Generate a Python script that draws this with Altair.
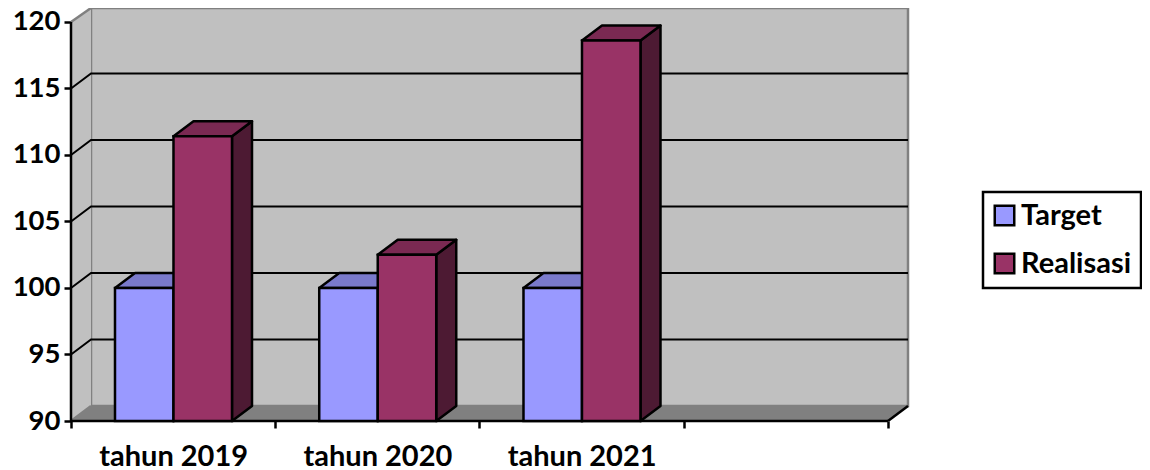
import altair as alt
import pandas as pd

categories = ["tahun 2019", "tahun 2020", "tahun 2021"]
series = ["Target", "Realisasi"]
target = [100, 100, 100]
realisasi = [111.4, 102.5, 118.6]
front_colors = ["#9999ff", "#993366"]
top_colors = ["#7a7acc", "#7a2952"]
side_colors = ["#4d4d80", "#4d1a33"]
y_ticks = [90, 95, 100, 105, 110, 115, 120]
x_ticks = [0, 0.5, 1, 1.5, 2, 2.5, 3, 4]
grid_values = [95, 100, 105, 110, 115]

FONT = "Lato"
FS = 29
Y0, Y1, Y_MAX = 90, 120, 121.05
DX, DY = 0.098, 1.128      # depth of the 3-D box, in axis units
N_SLOTS = 4
GAP = 0.2154               # left gap of a cluster, in category units
BAR = 0.2864               # bar width, in category units
PX = 837
PY = 413
X_MAX = N_SLOTS + DX

x_scale = alt.Scale(domain=[0, X_MAX], nice=False, zero=False)
y_scale = alt.Scale(domain=[Y0, Y_MAX], nice=False, zero=False)

label_expr = ("datum.value==0.5?'%s':datum.value==1.5?'%s':datum.value==2.5?'%s':''"
              % tuple(categories))
x_axis = alt.Axis(
    values=x_ticks, labelExpr=label_expr, domain=False, grid=False, title=None,
    tickColor="black", tickWidth=2.5, tickSize=7,
    tickOpacity=alt.expr("datum.value % 1 === 0 ? 1 : 0"),
    labelFont=FONT, labelFontWeight="bold", labelFontSize=FS, labelColor="black",
    labelPadding=14, labelOverlap=False, labelFlush=False)
y_axis = alt.Axis(
    values=y_ticks, domain=False, grid=False, title=None, tickColor="black", tickWidth=2.5,
    tickSize=7, labelFont=FONT, labelFontWeight="bold", labelFontSize=27.5, labelColor="black",
    labelPadding=4, labelOverlap=False, labelFlush=False)
X = lambda f: alt.X(f, type="quantitative", scale=x_scale, axis=x_axis)
Y = lambda f: alt.Y(f, type="quantitative", scale=y_scale, axis=y_axis)

# ---- bars
rows = []
for i, c in enumerate(categories):
    for j, (s, vals) in enumerate(zip(series, [target, realisasi])):
        x0 = i + GAP + j * BAR
        rows.append(dict(cat=c, s=s, v=vals[i], x0=x0, x1=x0 + BAR, base=Y0))
bars = pd.DataFrame(rows)

side_rows, top_rows = [], []
for r in rows:
    k = r["s"] + r["cat"]
    side_rows += [dict(k=k, s=r["s"], x=r["x1"], y=r["v"], y2=Y0),
                  dict(k=k, s=r["s"], x=r["x1"] + DX, y=r["v"] + DY, y2=Y0 + DY)]
    top_rows += [dict(k=k, s=r["s"], y=r["v"], x=r["x0"], x2=r["x1"]),
                 dict(k=k, s=r["s"], y=r["v"] + DY, x=r["x0"] + DX, x2=r["x1"] + DX)]
sides = pd.DataFrame(side_rows)
tops = pd.DataFrame(top_rows)

# ---- walls
back = pd.DataFrame([dict(x=DX, x2=X_MAX, y=Y0 + DY, y2=Y_MAX)])
left = pd.DataFrame([dict(x=0, y=Y0, y2=Y1), dict(x=DX, y=Y0 + DY, y2=Y_MAX)])
floor = pd.DataFrame([dict(y=Y0, x=0, x2=N_SLOTS), dict(y=Y0 + DY, x=DX, x2=X_MAX)])

grid_rows = []
for v in grid_values:
    grid_rows += [dict(g=v, o=0, x=0, y=v), dict(g=v, o=1, x=DX, y=v + DY),
                  dict(g=v, o=2, x=X_MAX, y=v + DY)]
grid = pd.DataFrame(grid_rows)

grey_edges = pd.DataFrame([
    dict(g="top", o=0, x=0, y=Y1), dict(g="top", o=1, x=DX, y=Y_MAX),
    dict(g="low", o=0, x=0, y=Y0), dict(g="low", o=1, x=DX, y=Y0 + DY),
])
black_edges = pd.DataFrame([
    dict(g="slant", o=0, x=N_SLOTS, y=Y0), dict(g="slant", o=1, x=X_MAX, y=Y0 + DY),
    dict(g="xaxis", o=0, x=0, y=Y0), dict(g="xaxis", o=1, x=N_SLOTS, y=Y0),
    dict(g="yaxis", o=0, x=0, y=Y0), dict(g="yaxis", o=1, x=0, y=Y1),
])

wall_layer = alt.Chart(back).mark_rect(fill="#c0c0c0", stroke="#808080", strokeWidth=2.5).encode(
    x=X("x"), x2="x2", y=Y("y"), y2="y2")
left_layer = alt.Chart(left).mark_area(fill="#c0c0c0").encode(x=X("x"), y=Y("y"), y2="y2")
floor_layer = alt.Chart(floor).mark_area(orient="horizontal", fill="#808080").encode(
    y=Y("y"), x=X("x"), x2="x2")
line_enc = dict(x=X("x"), y=Y("y"), order="o:O", detail="g:N")
grid_layer = alt.Chart(grid).mark_line(color="black", strokeWidth=2).encode(**line_enc)
grey_layer = alt.Chart(grey_edges).mark_line(color="#808080", strokeWidth=2.5).encode(**line_enc)
black_layer = alt.Chart(black_edges).mark_line(color="black", strokeWidth=2.5).encode(**line_enc)

side_layer = alt.Chart(sides).mark_area(stroke="black", strokeWidth=2.5, strokeJoin="round").encode(
    x=X("x"), y=Y("y"), y2="y2", detail="k:N",
    fill=alt.Fill("s:N", scale=alt.Scale(domain=series, range=side_colors), legend=None))
top_layer = alt.Chart(tops).mark_area(orient="horizontal", stroke="black", strokeWidth=2.5,
                                      strokeJoin="round").encode(
    y=Y("y"), x=X("x"), x2="x2", detail="k:N",
    fill=alt.Fill("s:N", scale=alt.Scale(domain=series, range=top_colors), legend=None))
front_layer = alt.Chart(bars).mark_bar(stroke="black", strokeWidth=2.5).encode(
    x=X("x0"), x2="x1", y=Y("v"), y2="base",
    fill=alt.Fill("s:N", scale=alt.Scale(domain=series, range=front_colors),
                  legend=alt.Legend(title=None, orient="none", legendX=912, legendY=184,
                                    symbolType="square", symbolSize=380,
                                    symbolStrokeColor="black", symbolStrokeWidth=2.5,
                                    symbolOffset=-2,
                                    labelFont=FONT, labelFontWeight="bold", labelFontSize=FS,
                                    labelColor="black", labelLimit=300, labelOffset=2,
                                    rowPadding=17, padding=9, strokeColor="black")))

chart = alt.layer(
    wall_layer, left_layer, floor_layer, grid_layer, grey_layer, black_layer,
    side_layer, top_layer, front_layer,
).resolve_scale(fill="independent").properties(
    width=PX, height=PY, background="white",
    autosize=alt.AutoSizeParams(type="none"),
    padding={"left": 63, "top": 0, "right": 234, "bottom": 49},
).configure_view(stroke=None).configure_legend(strokeWidth=2.5)

chart.save("out.html", embed_options={"renderer": "svg", "actions": False})
